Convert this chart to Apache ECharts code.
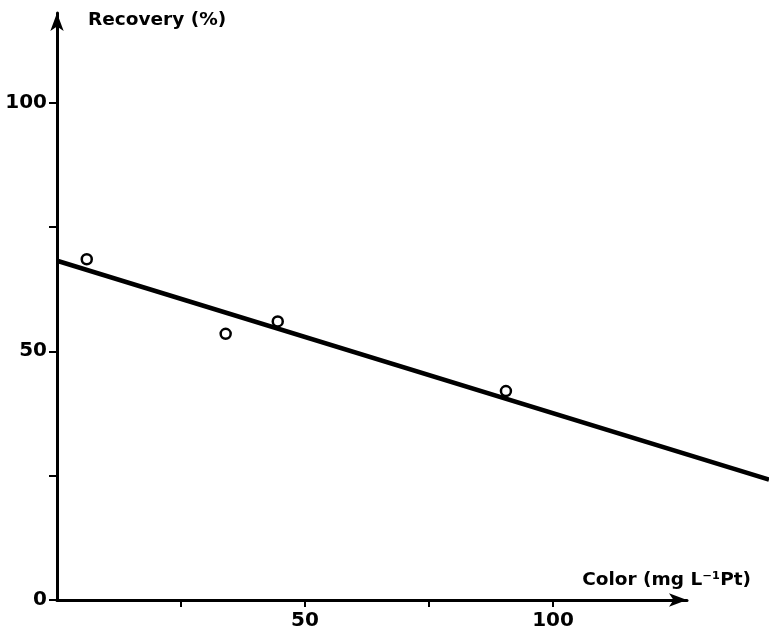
<!DOCTYPE html>
<html>
<head>
<meta charset="utf-8">
<script src="https://cdn.jsdelivr.net/npm/echarts@6/dist/echarts.min.js"></script>
<style>
  html, body { margin: 0; padding: 0; background: #fff; }
  #chart { width: 769px; height: 634px; }
</style>
</head>
<body>
<div id="chart"></div>
<script>
// measured points (color mg/L Pt, recovery %)
const colorValues = [6, 34, 44.5, 90.5];
const recoveryValues = [68.5, 53.5, 56, 42];
// fitted line end points (runs past the axis arrow to the page edge, as in the print)
const fitX = [0, 143.3];
const fitY = [68.2, 24.2];
const xTicks = [25, 50, 75, 100];
const xLabels = [50, 100];
const yTicks = [0, 25, 50, 75, 100];
const yLabels = [0, 50, 100];

const chart = echarts.init(document.getElementById('chart'));
const font = '"DejaVu Sans", Arial, sans-serif';
const X_MAX = 127;

chart.setOption({
  animation: false,
  backgroundColor: '#fff',
  grid: [
    { left: 57, right: 82, top: 13, bottom: 34 },
    // same scale, wider box: only used so the fit line can run to the edge
    { left: 57, right: 0, top: 13, bottom: 34 }
  ],
  xAxis: [{
    type: 'value', min: 0, max: X_MAX, gridIndex: 0,
    name: 'Color (mg L\u207B\u00B9Pt)',
    nameLocation: 'end', nameGap: -2,
    nameTextStyle: {
      color: '#000', fontFamily: font, fontWeight: 'bold', fontSize: 18.5,
      align: 'right', verticalAlign: 'bottom', padding: [0, -66, 10, 0]
    },
    axisLine: { lineStyle: { color: '#000', width: 3 }, symbol: ['none', 'arrow'], symbolSize: [10, 18] },
    axisTick: { customValues: xTicks, length: 7, lineStyle: { color: '#000', width: 2 } },
    axisLabel: {
      customValues: xLabels, color: '#000', fontFamily: font, fontWeight: 'bold', fontSize: 20, margin: 11
    },
    splitLine: { show: false }
  }, {
    type: 'value', min: 0, max: 143.3, gridIndex: 1, show: false
  }],
  yAxis: [{
    type: 'value', min: 0, max: 118, gridIndex: 0,
    name: 'Recovery (%)',
    nameLocation: 'end', nameGap: -7,
    nameTextStyle: {
      color: '#000', fontFamily: font, fontWeight: 'bold', fontSize: 18.5,
      align: 'left', verticalAlign: 'middle', padding: [0, 0, 0, 31]
    },
    axisLine: { lineStyle: { color: '#000', width: 3 }, symbol: ['none', 'arrow'], symbolSize: [10, 18] },
    axisTick: { customValues: yTicks, length: 8, lineStyle: { color: '#000', width: 2 } },
    axisLabel: {
      customValues: yLabels, color: '#000', fontFamily: font, fontWeight: 'bold', fontSize: 20, margin: 10
    },
    splitLine: { show: false }
  }, {
    type: 'value', min: 0, max: 118, gridIndex: 1, show: false
  }],
  series: [
    {
      type: 'line',
      xAxisIndex: 1, yAxisIndex: 1,
      data: fitX.map((x, i) => [x, fitY[i]]),
      showSymbol: false,
      lineStyle: { color: '#000', width: 4.5 },
      z: 2
    },
    {
      type: 'scatter',
      xAxisIndex: 0, yAxisIndex: 0,
      data: colorValues.map((x, i) => [x, recoveryValues[i]]),
      symbol: 'circle',
      symbolSize: 10,
      itemStyle: { color: '#fff', borderColor: '#000', borderWidth: 2.5, opacity: 1 },
      z: 3
    }
  ]
});
</script>
</body>
</html>
